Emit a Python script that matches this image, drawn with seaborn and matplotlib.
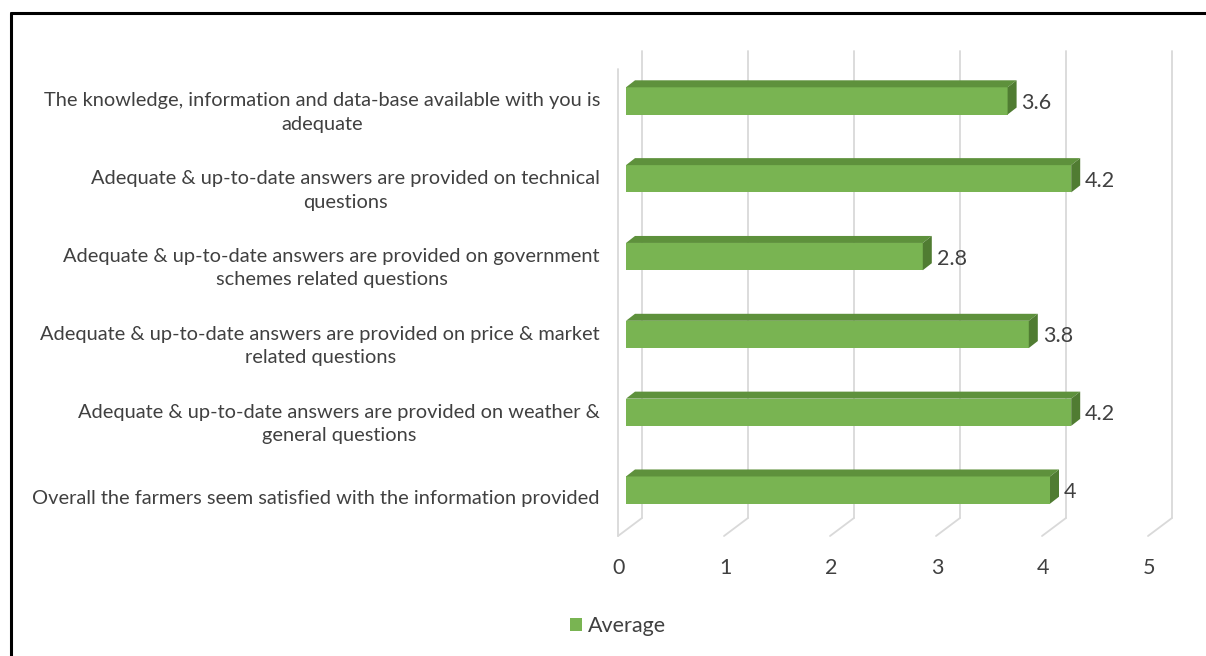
import matplotlib
matplotlib.use("Agg")
import matplotlib.pyplot as plt
import seaborn as sns
import pandas as pd
from matplotlib.transforms import ScaledTranslation
from matplotlib.patches import Polygon, ConnectionPatch
from matplotlib.lines import Line2D

# data
statements = [
    "The knowledge, information and data-base available with you is\nadequate",
    "Adequate & up-to-date answers are provided on technical\nquestions",
    "Adequate & up-to-date answers are provided on government\nschemes related questions",
    "Adequate & up-to-date answers are provided on price & market\nrelated questions",
    "Adequate & up-to-date answers are provided on weather &\ngeneral questions",
    "Overall the farmers seem satisfied with the information provided",
]
averages = [3.6, 4.2, 2.8, 3.8, 4.2, 4]
x_ticks = [0, 1, 2, 3, 4, 5]

df = pd.DataFrame({"statement": statements, "average": averages})

sns.set_theme(style="white")
plt.rcParams["font.family"] = ["Lato", "DejaVu Sans"]

W, H = 1206, 656
fig = plt.figure(figsize=(W / 100, H / 100), dpi=100)
# axes = plane of the bar front faces (pixel layout of the original)
ax = fig.add_axes([626 / W, 1 - 529 / H, 530 / W, 467 / H])

front = "#79B452"
top_c = "#5E913C"
side_c = "#507C32"
grid_c = "#D9D9D9"
txt_c = "#404040"
fs = 14.4
fs_num = 15.5

sns.barplot(data=df, x="average", y="statement", orient="h", color=front,
            width=0.35, saturation=1, label="Average", linewidth=0, ax=ax, zorder=3)
bars = list(ax.containers[0])
ax.set_xlim(0, 5)
ax.set_ylim(5.5, -0.5)
for s in ax.spines.values():
    s.set_visible(False)
ax.set_xlabel("")
ax.set_ylabel("")
ax.set_xticks(x_ticks)
ax.set_xticklabels([str(t) for t in x_ticks])
ax.tick_params(axis="both", length=0, labelcolor=txt_c)
ax.tick_params(axis="y", pad=13, labelsize=fs)
ax.tick_params(axis="x", pad=16, labelsize=fs_num)


def shift(dx, dy):
    # pixel offset (y up)
    return ScaledTranslation(dx / 100, dy / 100, fig.dpi_scale_trans)


front_tr = ax.transData + shift(-8, -7)
back_tr = ax.transData + shift(16, 11)

# tick labels sit on the front plane
for lbl in ax.get_yticklabels():
    lbl.set_transform(lbl.get_transform() + shift(-8, -7))
    lbl.set_multialignment("center")
    lbl.set_linespacing(1.45)
for lbl in ax.get_xticklabels():
    lbl.set_transform(lbl.get_transform() + shift(-7, -7))

# back wall gridlines, floor lines and front left edge
for t in x_ticks:
    ax.plot([t, t], [-0.5, 5.5], transform=back_tr, color=grid_c, lw=1.3,
            clip_on=False, zorder=1)
    con = ConnectionPatch(xyA=(t, 5.5), coordsA=back_tr, xyB=(t, 5.5),
                          coordsB=front_tr, color=grid_c, lw=1.3, zorder=1)
    ax.add_artist(con)
ax.plot([0, 0], [-0.5, 5.5], transform=front_tr, color=grid_c, lw=1.3,
        clip_on=False, zorder=1)

# depth faces of the bars
ppx = ax.bbox.width / 5
ppy = ax.bbox.height / 6
ddx, ddy = 9 / ppx, -7 / ppy
for p in bars:
    x0, y0, w, h = p.get_x(), p.get_y(), p.get_width(), p.get_height()
    x1, y1 = x0 + w, y0 + h
    ax.add_patch(Polygon([(x0, y0), (x1, y0), (x1 + ddx, y0 + ddy), (x0 + ddx, y0 + ddy)],
                         closed=True, facecolor=top_c, edgecolor="none", zorder=3, clip_on=False))
    ax.add_patch(Polygon([(x1, y0), (x1 + ddx, y0 + ddy), (x1 + ddx, y1 + ddy), (x1, y1)],
                         closed=True, facecolor=side_c, edgecolor="none", zorder=3, clip_on=False))

for i, v in enumerate(averages):
    ax.text(v, i, f"{v:g}", transform=ax.transData + shift(14, -2), ha="left",
            va="center", fontsize=fs_num, color=txt_c, clip_on=False)

ax.legend(loc="center left", bbox_to_anchor=(570 / W, 1 - 626 / H),
          bbox_transform=fig.transFigure, frameon=False, fontsize=fs_num,
          handlelength=0.55, handleheight=0.55, handletextpad=0.3,
          borderpad=0, borderaxespad=0, labelcolor=txt_c)

# outer frame (top and left edges only visible)
fig.add_artist(Line2D([11 / W, 1], [1 - 13 / H, 1 - 13 / H], transform=fig.transFigure,
                      color="black", lw=2.2))
fig.add_artist(Line2D([11 / W, 11 / W], [0, 1 - 13 / H], transform=fig.transFigure,
                      color="black", lw=2.2))

fig.savefig("out.png", dpi=100)
